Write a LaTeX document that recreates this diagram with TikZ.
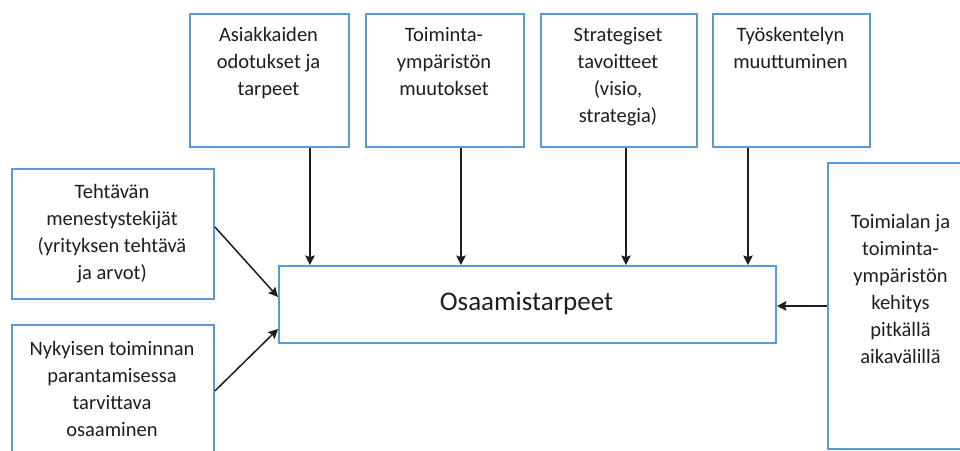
\documentclass[tikz,border=0pt]{standalone}
\usepackage{fontspec}
\setmainfont{Carlito}
\usetikzlibrary{arrows.meta}
\definecolor{boxblue}{HTML}{5B9BD5}
\definecolor{ink}{HTML}{1E1E1E}
\begin{document}
\begin{tikzpicture}[x=1pt,y=-1pt,
  box/.style={draw=boxblue,line width=1.9pt,fill=white,inner sep=0pt,anchor=north west},
  txt/.style={inner sep=0pt,align=center,text=ink,font=\fontsize{20.5}{27}\selectfont,anchor=north},
  arr/.style={draw=ink,line width=1.5pt,-{Stealth[length=9.5pt,width=9.5pt,inset=1.5pt]}}]
\useasboundingbox (0,0) rectangle (960,450);
\clip (0,0) rectangle (960,450);
% top boxes
\node[box,minimum width=159pt,minimum height=133pt] (b1) at (189,13) {};
\node[box,minimum width=158pt,minimum height=133pt] (b2) at (365,13) {};
\node[box,minimum width=156pt,minimum height=133pt] (b3) at (540,13) {};
\node[box,minimum width=157pt,minimum height=133pt] (b4) at (712,13) {};
\node[txt] (t1) at (268.5,27) {Asiakkaiden\\odotukset ja\\tarpeet};
\node[txt] (t2) at (444,27) {Toiminta-\\ympäristön\\muutokset};
\node[txt] (t3) at (618,27) {Strategiset\\tavoitteet\\(visio,\\strategia)};
\node[txt] (t4) at (790.5,27) {Työskentelyn\\muuttuminen};
% left boxes
\node[box,minimum width=202pt,minimum height=130pt] (l1) at (11,168) {};
\node[box,minimum width=202pt,minimum height=146pt] (l2) at (11,324) {};
\node[txt] (tl1) at (112,184) {Tehtävän\\menestystekijät\\(yrityksen tehtävä\\ja arvot)};
\node[txt] (tl2) at (112,341) {Nykyisen toiminnan\\parantamisessa\\tarvittava\\osaaminen};
% right box
\node[box,minimum width=147pt,minimum height=286pt] (r) at (827,162) {};
\node[txt] (tr) at (900.5,214) {Toimialan ja\\toiminta-\\ympäristön\\kehitys\\pitkällä\\aikavälillä};
% center box
\node[box,minimum width=497pt,minimum height=77pt] (c) at (278,265) {};
\node[inner sep=0pt,text=ink,font=\fontsize{27}{30}\selectfont] (tc) at (526.5,303.5) {Osaamistarpeet};
% arrows
\draw[arr] ([xshift=40.5pt]b1.south) -- ([xshift=40.5pt]b1.south |- c.north);
\draw[arr] ([xshift=16pt]b2.south) -- ([xshift=16pt]b2.south |- c.north);
\draw[arr] ([xshift=7pt]b3.south) -- ([xshift=7pt]b3.south |- c.north);
\draw[arr] ([xshift=-43.5pt]b4.south) -- ([xshift=-43.5pt]b4.south |- c.north);
\draw[arr] ([yshift=7pt]l1.east) -- ([yshift=7.5pt]c.west);
\draw[arr] ([yshift=7pt]l2.east) -- ([yshift=-24.5pt]c.west);
\draw[arr] (r.west) -- (r.west -| c.east);
\end{tikzpicture}
\end{document}
